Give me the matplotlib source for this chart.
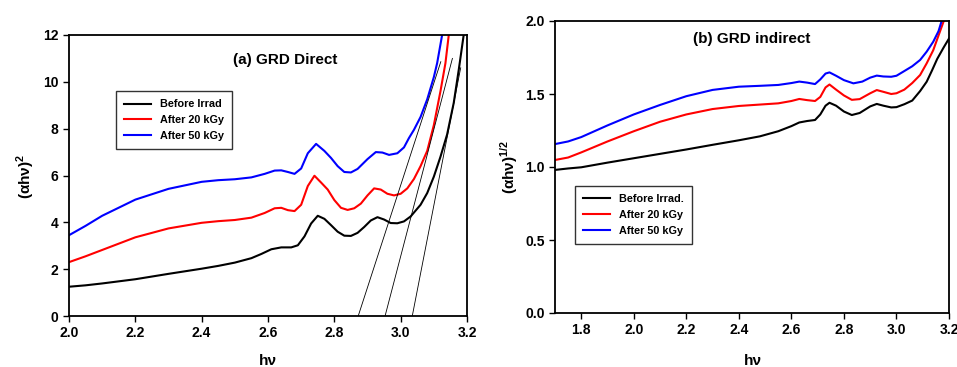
import matplotlib
matplotlib.use("Agg")
import matplotlib.pyplot as plt

plt.rcParams['font.family'] = ['Liberation Sans', 'DejaVu Sans']
plt.rcParams['font.weight'] = 'bold'
plt.rcParams['mathtext.fontset'] = 'custom'
plt.rcParams['mathtext.rm'] = 'Liberation Sans:bold'
plt.rcParams['mathtext.bf'] = 'Liberation Sans:bold'

# (a) direct gap: (alpha h nu)^2 vs h nu
direct_x_before = [2.00, 2.05, 2.10, 2.20, 2.30, 2.40, 2.45, 2.50, 2.55, 2.58, 2.61, 2.64,
                   2.67, 2.69, 2.71, 2.73, 2.75, 2.77, 2.79, 2.81, 2.83, 2.85, 2.87, 2.89,
                   2.91, 2.93, 2.95, 2.97, 2.99, 3.01, 3.03, 3.06, 3.08, 3.10, 3.12, 3.14,
                   3.16, 3.175, 3.19]
direct_y_before = [1.25, 1.31, 1.39, 1.57, 1.80, 2.02, 2.14, 2.28, 2.47, 2.65, 2.85, 2.93,
                   2.93, 3.02, 3.40, 3.95, 4.28, 4.15, 3.88, 3.60, 3.43, 3.42, 3.55, 3.80,
                   4.08, 4.22, 4.12, 3.97, 3.96, 4.04, 4.25, 4.75, 5.25, 5.95, 6.80, 7.75,
                   9.10, 10.50, 12.00]

direct_x_20 = [2.00, 2.05, 2.10, 2.20, 2.30, 2.40, 2.45, 2.50, 2.55, 2.59, 2.62, 2.64,
               2.66, 2.68, 2.70, 2.72, 2.74, 2.76, 2.78, 2.80, 2.82, 2.84, 2.86, 2.88,
               2.90, 2.92, 2.94, 2.96, 2.98, 3.00, 3.02, 3.04, 3.06, 3.08, 3.10, 3.12,
               3.135, 3.145]
direct_y_20 = [2.30, 2.55, 2.82, 3.36, 3.74, 3.98, 4.05, 4.10, 4.20, 4.40, 4.60, 4.62,
               4.52, 4.48, 4.75, 5.55, 5.99, 5.70, 5.40, 4.95, 4.62, 4.53, 4.60, 4.80,
               5.15, 5.45, 5.40, 5.22, 5.15, 5.22, 5.45, 5.85, 6.40, 7.05, 8.15, 9.60,
               10.80, 12.00]

direct_x_50 = [2.00, 2.05, 2.10, 2.20, 2.30, 2.40, 2.45, 2.50, 2.55, 2.59, 2.62, 2.64,
               2.66, 2.68, 2.70, 2.72, 2.745, 2.77, 2.79, 2.81, 2.83, 2.85, 2.87, 2.90,
               2.925, 2.945, 2.965, 2.99, 3.01, 3.025, 3.04, 3.06, 3.08, 3.10, 3.11, 3.125]
direct_y_50 = [3.45, 3.85, 4.28, 4.97, 5.43, 5.73, 5.80, 5.84, 5.92, 6.07, 6.21, 6.22,
               6.15, 6.07, 6.30, 6.95, 7.35, 7.05, 6.75, 6.40, 6.15, 6.13, 6.28, 6.70,
               7.00, 6.98, 6.88, 6.95, 7.20, 7.60, 7.95, 8.50, 9.25, 10.20, 10.80, 12.00]

# linear extrapolations to the energy axis
fit_x0 = [2.872, 2.953, 3.035]
fit_x1 = [3.121, 3.156, 3.181]
fit_y1 = [10.86, 11.00, 10.60]

# (b) indirect gap: (alpha h nu)^1/2 vs h nu
indirect_x_before = [1.70, 1.75, 1.80, 1.90, 2.00, 2.10, 2.20, 2.30, 2.40, 2.48, 2.55, 2.60,
                     2.63, 2.66, 2.69, 2.71, 2.73, 2.745, 2.77, 2.80, 2.83, 2.86, 2.90,
                     2.925, 2.95, 2.98, 3.00, 3.03, 3.06, 3.09, 3.115, 3.135, 3.155, 3.18,
                     3.20]
indirect_y_before = [0.98, 0.99, 0.998, 1.03, 1.06, 1.09, 1.12, 1.152, 1.183, 1.21, 1.245, 1.28,
                     1.305, 1.315, 1.322, 1.36, 1.42, 1.44, 1.42, 1.38, 1.356, 1.37, 1.415,
                     1.432, 1.42, 1.408, 1.41, 1.43, 1.455, 1.52, 1.584, 1.66, 1.74, 1.82,
                     1.88]

indirect_x_20 = [1.70, 1.75, 1.80, 1.90, 2.00, 2.10, 2.20, 2.30, 2.40, 2.50, 2.55, 2.60,
                 2.63, 2.66, 2.69, 2.71, 2.73, 2.745, 2.77, 2.80, 2.83, 2.86, 2.90,
                 2.925, 2.95, 2.98, 3.00, 3.03, 3.06, 3.09, 3.115, 3.14, 3.16, 3.18]
indirect_y_20 = [1.048, 1.065, 1.10, 1.175, 1.245, 1.31, 1.36, 1.397, 1.418, 1.43, 1.436, 1.452,
                 1.466, 1.458, 1.452, 1.48, 1.545, 1.565, 1.53, 1.49, 1.46, 1.465, 1.505,
                 1.527, 1.515, 1.50, 1.505, 1.53, 1.575, 1.63, 1.71, 1.80, 1.90, 2.00]

indirect_x_50 = [1.70, 1.75, 1.80, 1.90, 2.00, 2.10, 2.20, 2.30, 2.40, 2.48, 2.55, 2.60,
                 2.63, 2.66, 2.69, 2.71, 2.73, 2.745, 2.77, 2.80, 2.836, 2.87, 2.90,
                 2.925, 2.95, 2.98, 3.00, 3.026, 3.06, 3.09, 3.115, 3.14, 3.16, 3.172]
indirect_y_50 = [1.157, 1.175, 1.205, 1.285, 1.36, 1.425, 1.485, 1.528, 1.55, 1.556, 1.562, 1.575,
                 1.585, 1.578, 1.568, 1.60, 1.64, 1.648, 1.625, 1.595, 1.573, 1.585, 1.612,
                 1.626, 1.62, 1.618, 1.625, 1.653, 1.69, 1.733, 1.79, 1.858, 1.93, 2.00]

labels_a = ["Before Irrad", "After 20 kGy", "After 50 kGy"]
labels_b = ["Before Irrad.", "After 20 kGy", "After 50 kGy"]
colors = ["black", "red", "blue"]


def styleAxes(ax):
    for s in ax.spines.values():
        s.set_linewidth(1.3)
    ax.tick_params(direction='out', length=4, width=1.0, labelsize=10,
                   top=False, right=False)
    for lab in ax.get_xticklabels() + ax.get_yticklabels():
        lab.set_fontweight('bold')


def addLegend(ax, anchor):
    leg = ax.legend(loc='upper left', bbox_to_anchor=anchor, fontsize=7.8,
                    frameon=True, fancybox=False, handlelength=2.5, borderpad=0.75,
                    labelspacing=0.55, handletextpad=0.8, borderaxespad=0)
    leg.get_frame().set_edgecolor('black')
    leg.get_frame().set_linewidth(1.0)
    for t in leg.get_texts():
        t.set_fontweight('bold')
    return leg


fig = plt.figure(figsize=(9.57, 3.67), dpi=100)

# ---- panel (a)
axA = fig.add_axes([69 / 957, 1 - 316 / 367, 398 / 957, 281 / 367])
series_a = [(direct_x_before, direct_y_before), (direct_x_20, direct_y_20),
            (direct_x_50, direct_y_50)]
for (xs, ys), c, lab in zip(series_a, colors, labels_a):
    axA.plot(xs, ys, color=c, lw=1.5, label=lab)
for x0, x1, y1 in zip(fit_x0, fit_x1, fit_y1):
    axA.plot([x0, x1], [0, y1], color='black', lw=0.6)
axA.set_xlim(2.0, 3.2)
axA.set_ylim(0, 12)
axA.set_xticks([2.0, 2.2, 2.4, 2.6, 2.8, 3.0, 3.2])
axA.set_xticklabels(["2.0", "2.2", "2.4", "2.6", "2.8", "3.0", "3.2"])
axA.set_yticks([0, 2, 4, 6, 8, 10, 12])
styleAxes(axA)
axA.text(0.543, 0.911, "(a) GRD Direct", transform=axA.transAxes,
         ha='center', va='center', fontsize=11, fontweight='bold')
addLegend(axA, (0.118, 0.80))
axA.set_ylabel(r"(αhν)$^{\mathbf{2}}$", fontsize=11, fontweight='bold')
axA.yaxis.set_label_coords(-0.08, 0.495)
axA.set_xlabel("hν", fontsize=11, fontweight='bold')
axA.xaxis.set_label_coords(0.5, -0.135)
axA.xaxis.label.set_va('top')

# ---- panel (b)
axB = fig.add_axes([555 / 957, 1 - 313 / 367, 394 / 957, 292 / 367])
series_b = [(indirect_x_before, indirect_y_before), (indirect_x_20, indirect_y_20),
            (indirect_x_50, indirect_y_50)]
for (xs, ys), c, lab in zip(series_b, colors, labels_b):
    axB.plot(xs, ys, color=c, lw=1.5, label=lab)
axB.set_xlim(1.7, 3.2)
axB.set_ylim(0, 2.0)
axB.set_xticks([1.8, 2.0, 2.2, 2.4, 2.6, 2.8, 3.0, 3.2])
axB.set_xticklabels(["1.8", "2.0", "2.2", "2.4", "2.6", "2.8", "3.0", "3.2"])
axB.set_yticks([0.0, 0.5, 1.0, 1.5, 2.0])
axB.set_yticklabels(["0.0", "0.5", "1.0", "1.5", "2.0"])
styleAxes(axB)
axB.text(0.499, 0.937, "(b) GRD indirect", transform=axB.transAxes,
         ha='center', va='center', fontsize=11, fontweight='bold')
addLegend(axB, (0.051, 0.435))
axB.set_ylabel(r"(αhν)$^{\mathbf{1/2}}$", fontsize=11, fontweight='bold')
axB.yaxis.set_label_coords(-0.09, 0.5)
axB.set_xlabel("hν", fontsize=11, fontweight='bold')
axB.xaxis.set_label_coords(0.502, -0.142)
axB.xaxis.label.set_va('top')

fig.savefig("out.png", dpi=100)
